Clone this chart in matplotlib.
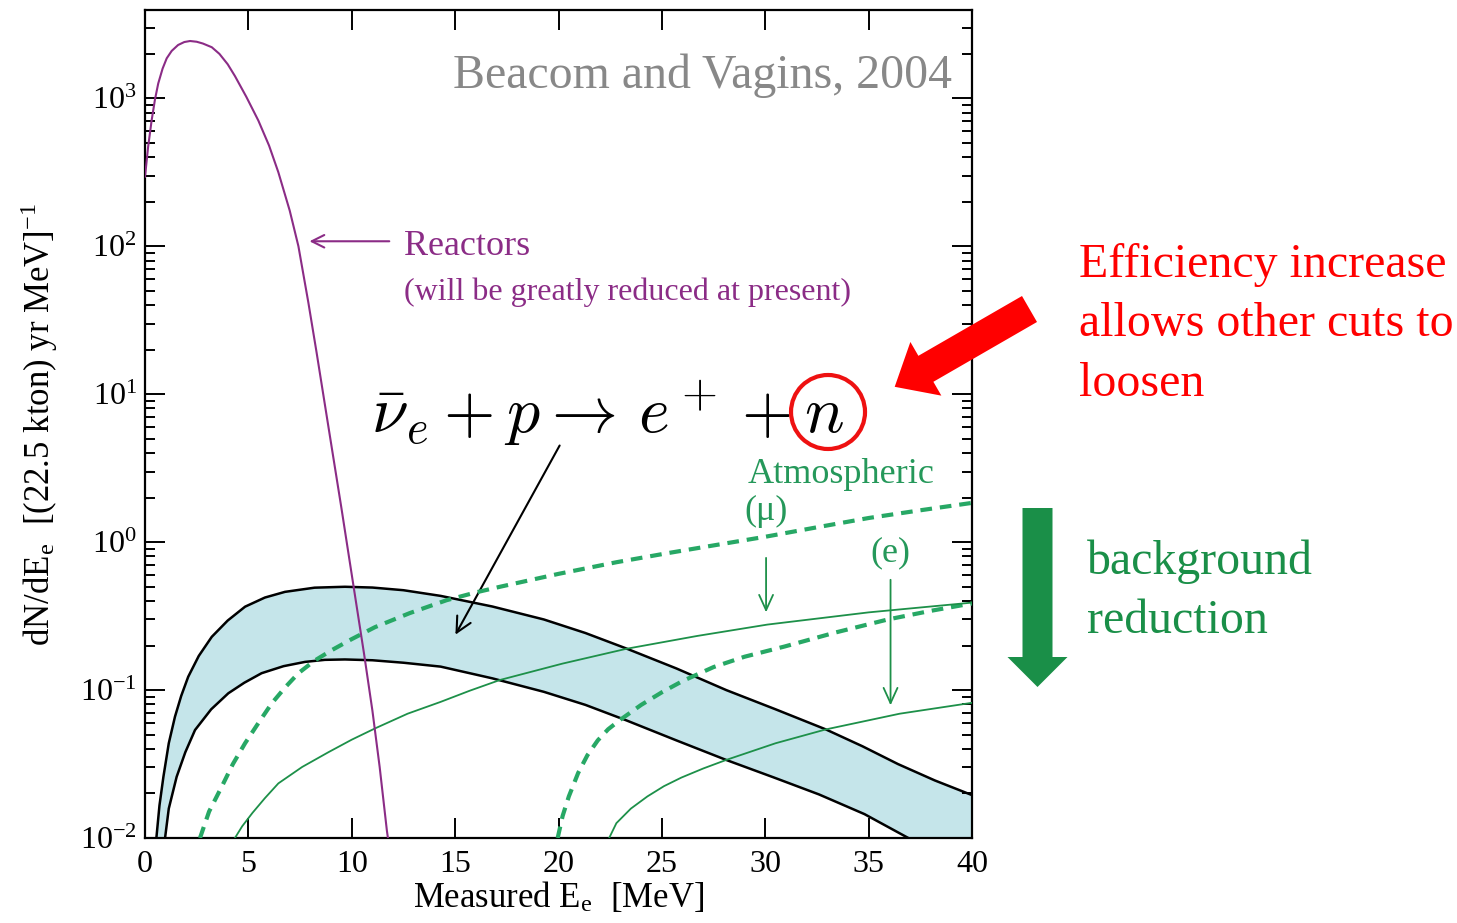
import numpy as np
import matplotlib.pyplot as plt
from matplotlib.patches import Ellipse, FancyArrow

plt.rcParams['font.family'] = 'serif'
plt.rcParams['font.serif'] = ['Liberation Serif', 'DejaVu Serif']
plt.rcParams['mathtext.fontset'] = 'stix'

# spectra, E in MeV, dN/dE in (22.5 kton)^-1 yr^-1 MeV^-1
reactor_x = [0.0, 0.15, 0.32, 0.48, 0.64, 0.85, 1.05, 1.29, 1.6, 1.9, 2.18, 2.5, 2.8,
             3.23, 3.6, 4.0, 4.35, 4.9, 5.48, 6.0, 6.45, 7.0, 7.42, 7.9, 8.3, 8.7,
             9.1, 9.5, 9.8, 10.2, 10.6, 11.0, 11.35, 11.7, 11.75]
reactor_y = [295, 468, 708, 977, 1259, 1585, 1862, 2089, 2291, 2399, 2438, 2410, 2344,
             2213, 1995, 1698, 1413, 1023, 708, 479, 316, 174, 100, 41.7, 19.1, 8.51,
             3.80, 1.70, 0.912, 0.398, 0.174, 0.0724, 0.0302, 0.0112, 0.010]

srn_hi_x = [0.55, 0.70, 0.89, 1.15, 1.45, 1.75, 2.09, 2.6, 3.23, 4.0, 4.84, 5.8, 6.77,
            8.2, 9.67, 11.0, 12.5, 14.3, 16.8, 19.29, 21.3, 23.28, 25.7, 28.11, 30.5,
            32.93, 34.7, 36.42, 38.2, 40.0]
srn_hi_y = [0.0100, 0.0166, 0.0259, 0.0437, 0.0661, 0.0912, 0.123, 0.170, 0.229,
            0.295, 0.366, 0.422, 0.461, 0.492, 0.499, 0.493, 0.473, 0.433, 0.367,
            0.300, 0.243, 0.191, 0.140, 0.100, 0.0741, 0.0542, 0.0417, 0.0316,
            0.0245, 0.0195]
srn_lo_x = [0.97, 1.15, 1.53, 1.95, 2.42, 3.2, 4.03, 4.8, 5.64, 6.7, 7.74, 8.7, 9.67,
            11.0, 12.5, 14.3, 16.8, 19.29, 21.3, 23.28, 25.7, 28.11, 30.4, 32.6,
            34.8, 36.92]
srn_lo_y = [0.0100, 0.0158, 0.0259, 0.0380, 0.0537, 0.0741, 0.0951, 0.112, 0.130,
            0.145, 0.155, 0.160, 0.161, 0.159, 0.153, 0.144, 0.120, 0.0973, 0.0794,
            0.0624, 0.0457, 0.0337, 0.0257, 0.0197, 0.0145, 0.0100]

mu_before_x = [2.66, 3.1, 3.71, 4.25, 4.84, 5.5, 6.13, 6.8, 7.42, 8.2, 9.03, 10.0,
               11.12, 12.8, 14.59, 16.0, 17.17, 20.0, 22.8, 25.21, 27.6, 29.99, 32.5,
               35.0, 37.5, 40.0]
mu_before_y = [0.0100, 0.0151, 0.0222, 0.0316, 0.0437, 0.0603, 0.0813, 0.105, 0.130,
               0.158, 0.186, 0.221, 0.266, 0.331, 0.405, 0.457, 0.499, 0.610, 0.731,
               0.839, 0.955, 1.086, 1.259, 1.455, 1.641, 1.841]
mu_after_x = [4.35, 4.7, 5.2, 5.8, 6.45, 7.6, 8.87, 10.0, 11.12, 12.7, 14.3, 15.7,
              17.17, 20.2, 23.28, 26.7, 30.1, 35.0, 40.0]
mu_after_y = [0.0100, 0.0120, 0.0148, 0.0186, 0.0234, 0.0302, 0.0380, 0.0462, 0.0550,
              0.0692, 0.0832, 0.0989, 0.117, 0.151, 0.190, 0.232, 0.277, 0.335, 0.390]

e_before_x = [19.96, 20.2, 20.5, 20.95, 21.4, 21.9, 22.4, 22.95, 24.0, 25.0, 26.0,
              27.5, 29.0, 30.94, 33.4, 35.93, 38.0, 40.0]
e_before_y = [0.0100, 0.0141, 0.0191, 0.0275, 0.0363, 0.0457, 0.0543, 0.0624, 0.0794,
              0.0966, 0.115, 0.143, 0.168, 0.197, 0.245, 0.300, 0.343, 0.385]
e_after_x = [22.45, 22.8, 23.5, 24.3, 25.1, 25.94, 27.0, 28.11, 30.5, 32.93, 36.5, 40.0]
e_after_y = [0.0100, 0.0126, 0.0158, 0.0191, 0.0224, 0.0256, 0.0295, 0.0337, 0.0437,
             0.0542, 0.0692, 0.0820]

x_ticks = [0, 5, 10, 15, 20, 25, 30, 35, 40]
y_decades = [-2, -1, 0, 1, 2, 3]

purple = '#8b2c86'
green = '#1d9049'
green_dash = '#27a865'
green_text = '#25985a'
blue_fill = '#c5e5ea'

W, H = 1457, 923
fig = plt.figure(figsize=(W / 100, H / 100), dpi=100)
ax = fig.add_axes([145 / W, 85 / H, 827 / W, 828 / H])

# relic band
poly_x = srn_hi_x + [40.0] + srn_lo_x[::-1]
poly_y = srn_hi_y + [0.005] + srn_lo_y[::-1]
ax.fill(poly_x, poly_y, color=blue_fill, lw=0, zorder=1)
ax.plot(srn_hi_x, srn_hi_y, color='black', lw=1.8, zorder=3)
ax.plot(srn_lo_x, srn_lo_y, color='black', lw=1.8, zorder=3)

dash = (0, (2.8, 1.9))
ax.plot(mu_before_x, mu_before_y, color=green_dash, lw=3.0, ls=dash, zorder=4)
ax.plot(e_before_x, e_before_y, color=green_dash, lw=3.0, ls=dash, zorder=4)
ax.plot(mu_after_x, mu_after_y, color=green, lw=1.3, zorder=4)
ax.plot(e_after_x, e_after_y, color=green, lw=1.3, zorder=4)

ax.plot(reactor_x, reactor_y, color=purple, lw=1.5, zorder=5)

ax.set_yscale('log')
ax.set_xlim(0, 40)
ax.set_ylim(0.01, 3950)
ax.set_xticks(x_ticks)
ax.set_xticklabels([str(t) for t in x_ticks])
ax.set_yticks([10.0 ** d for d in y_decades])
ax.set_yticklabels([r'$\mathregular{10^{%d}}$' % d for d in y_decades])
ax.minorticks_on()
ax.xaxis.set_minor_locator(plt.NullLocator())
ax.tick_params(which='both', direction='in', top=True, right=True, width=1.4)
ax.tick_params(which='major', length=14.4, labelsize=23)
ax.tick_params(which='minor', length=7.2)
ax.tick_params(axis='x', pad=9)
ax.tick_params(axis='y', pad=6)
for s in ax.spines.values():
    s.set_linewidth(1.6)

ax.set_xlabel(r'Measured E$_\mathregular{e}$  [MeV]', fontsize=25, labelpad=0)
ax.set_ylabel(r'dN/dE$_\mathregular{e}$  [(22.5 kton) yr MeV]$^\mathregular{-1}$',
              fontsize=25, labelpad=14)

ax.text(0.976, 0.906, 'Beacom and Vagins, 2004', transform=ax.transAxes,
        ha='right', va='baseline', fontsize=34.5, color='#888888')

# reactor label
ax.annotate('', xy=(7.82, 108), xytext=(11.95, 108),
            arrowprops=dict(arrowstyle='->,head_length=0.9,head_width=0.45',
                            color=purple, lw=1.5))
ax.text(12.55, 87, 'Reactors', color=purple, fontsize=26, va='baseline')
ax.text(12.55, 43, '(will be greatly reduced at present)', color=purple,
        fontsize=23, va='baseline')

# inverse beta decay
ax.text(10.95, 5.5, r'$\bar{\nu}_e + p \rightarrow \,e^+ + n$', fontsize=47.5,
        math_fontfamily='cm', va='baseline', zorder=6)
ax.annotate('', xy=(14.95, 0.228), xytext=(20.12, 4.67),
            arrowprops=dict(arrowstyle='->,head_length=1.1,head_width=0.55',
                            color='black', lw=1.5))
ax.add_patch(Ellipse((0.8259, 0.5145), 74 / 827, 74 / 828, transform=ax.transAxes,
                     fill=False, ec='#ee1111', lw=3.0, clip_on=False, zorder=7))

# atmospheric labels
ax.text(33.66, 2.5, 'Atmospheric', color=green_text, fontsize=26, ha='center',
        va='baseline')
ax.text(30.04, 1.4, '(μ)', color=green_text, fontsize=26, ha='center', va='baseline')
ax.text(36.03, 0.745, '(e)', color=green_text, fontsize=26, ha='center',
        va='baseline')
arr = dict(arrowstyle='->,head_length=1.1,head_width=0.5', color=green, lw=1.3)
ax.annotate('', xy=(30.04, 0.321), xytext=(30.04, 0.817), arrowprops=arr)
ax.annotate('', xy=(36.06, 0.0755), xytext=(36.06, 0.581), arrowprops=arr)

# side notes, in pixel units
ov = fig.add_axes([0, 0, 1, 1], facecolor='none')
ov.set_xlim(0, W)
ov.set_ylim(H, 0)
ov.axis('off')

ov.add_patch(FancyArrow(1029.5, 309, -134.8, 77.8, width=30, head_width=62,
                        head_length=36, length_includes_head=True,
                        color='#ff0000', lw=0))
for txt, yb in [('Efficiency increase', 277), ('allows other cuts to', 336),
                ('loosen', 396)]:
    ov.text(1079, yb, txt, color='#ff0000', fontsize=34.5, va='baseline')

ov.add_patch(FancyArrow(1037.5, 508, 0, 179, width=30, head_width=60,
                        head_length=30, length_includes_head=True,
                        color='#1a8f48', lw=0))
for txt, yb in [('background', 574), ('reduction', 633)]:
    ov.text(1087, yb, txt, color='#1a8f48', fontsize=34.5, va='baseline')

fig.savefig('out.png', dpi=100)
